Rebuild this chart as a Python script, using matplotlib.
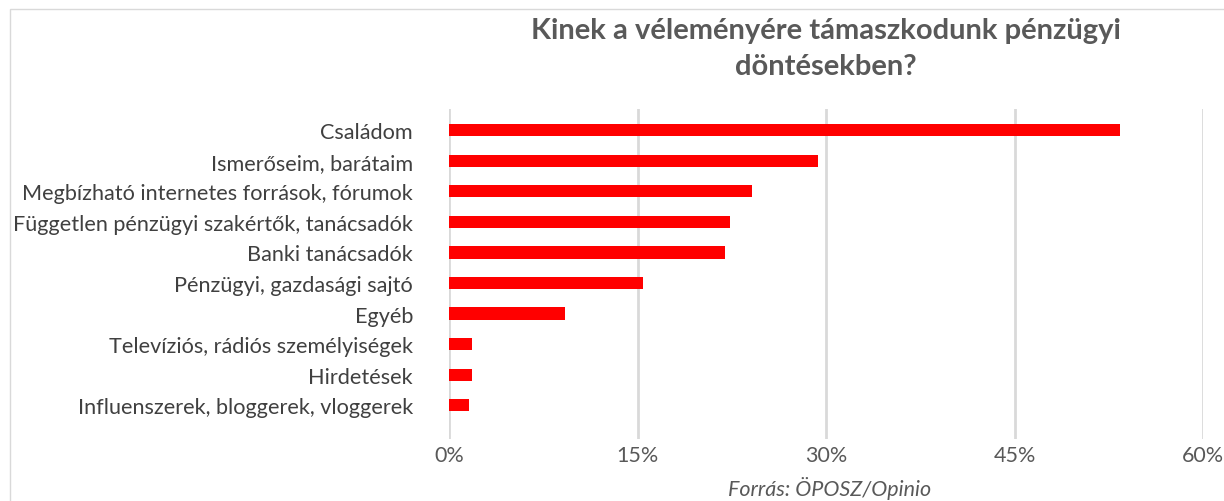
import numpy as np
import matplotlib.pyplot as plt
from matplotlib.patches import Rectangle

# chart data
categories = ["Családom", "Ismerőseim, barátaim", "Megbízható internetes források, fórumok",
              "Független pénzügyi szakértők, tanácsadók", "Banki tanácsadók",
              "Pénzügyi, gazdasági sajtó", "Egyéb", "Televíziós, rádiós személyiségek",
              "Hirdetések", "Influenszerek, bloggerek, vloggerek"]
values = [53.4, 29.4, 24.1, 22.4, 22.0, 15.4, 9.2, 1.8, 1.8, 1.6]
xticks = [0, 15, 30, 45, 60]

plt.rcParams['font.family'] = ['Lato', 'DejaVu Sans']

fig = plt.figure(figsize=(12.24, 5.02), dpi=100)
ax = fig.add_axes([449 / 1224, 1 - 440 / 502, (1203 - 449) / 1224, 330 / 502])

# chart border
fig.patches.append(Rectangle((10 / 1224, -0.1), 1.2, 1 - 10 / 502 + 0.1,
                             transform=fig.transFigure, fill=False,
                             edgecolor='#d9d9d9', linewidth=1))

ypos = np.arange(len(categories))
ax.barh(ypos, values, height=0.4, color='#ff0000', zorder=3)
ax.set_ylim(10.1, -0.69)
ax.set_xlim(0, 60)

ax.set_yticks(ypos)
ax.set_yticklabels(categories, fontsize=15.6, color='#404040')
ax.set_xticks(xticks)
ax.set_xticklabels([f"{t}%" for t in xticks], fontsize=15.5, color='#595959')
ax.tick_params(axis='both', length=0)
ax.tick_params(axis='x', pad=4)
ax.tick_params(axis='y', pad=26)

ax.grid(axis='x', color='#d9d9d9', linewidth=2, zorder=0)
for s in ax.spines.values():
    s.set_visible(False)

fig.text(826 / 1224, 1 - 49 / 502, "Kinek a véleményére támaszkodunk pénzügyi\ndöntésekben?",
         ha='center', va='center', fontsize=21, fontweight='bold', color='#595959',
         linespacing=1.5)
fig.text(830 / 1224, 1 - 489 / 502, "Forrás: ÖPOSZ/Opinio", ha='center', va='center',
         fontsize=15.5, style='italic', color='#595959')

fig.savefig("out.png", dpi=100)
